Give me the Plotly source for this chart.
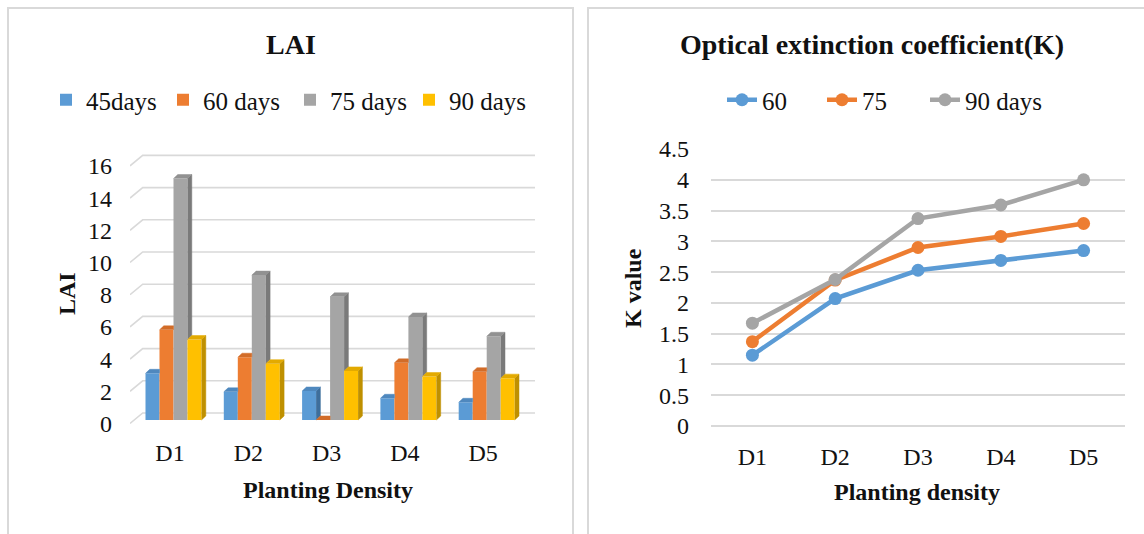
import plotly.graph_objects as go

# ---------------- data ----------------
categories = ["D1", "D2", "D3", "D4", "D5"]

lai_names = ["45days", "60 days", "75 days", "90 days"]
lai_45 = [2.9, 1.75, 1.8, 1.35, 1.1]
lai_60 = [5.6, 3.9, 0.0, 3.55, 3.0]
lai_75 = [15.0, 9.0, 7.65, 6.4, 5.2]
lai_90 = [5.0, 3.5, 3.05, 2.7, 2.6]
lai_ticks = [0, 2, 4, 6, 8, 10, 12, 14, 16]

k_names = ["60", "75", "90 days"]
k_60 = [1.15, 2.07, 2.53, 2.69, 2.85]
k_75 = [1.37, 2.37, 2.90, 3.08, 3.29]
k_90 = [1.67, 2.38, 3.37, 3.59, 4.00]
k_ticks = [0, 0.5, 1, 1.5, 2, 2.5, 3, 3.5, 4, 4.5]

# ---------------- styling ----------------
W, H = 1144, 534
FONT = "Liberation Serif"
INK = "#111111"
GRID = "#d9d9d9"
front_cols = ["#5B9BD5", "#ED7D31", "#A5A5A5", "#FFC000"]
side_cols = ["#3E6E9C", "#B05C24", "#7A7A7A", "#BF9000"]
top_cols = ["#4F88BE", "#D26C28", "#919191", "#E3AA00"]
k_cols = ["#5B9BD5", "#ED7D31", "#A5A5A5"]

# left edge (px) of each legend entry, one legend box per entry
lai_legend_px = [46, 163, 290, 409]
k_legend_px = [722, 822, 925]


def fx(px):
    return px / W


def fy(py):
    return 1 - py / H


# pseudo-3D geometry of the column chart (in axis units)
CAT_PX = 78.3          # pixels per category step
UNIT_PX = 16.1         # pixels per LAI unit
X_LO, X_HI = (130 - 170) / CAT_PX, (535 - 170) / CAT_PX
WALL_DX = (142.7 - 170) / CAT_PX   # back-wall start of the side wall
WALL_DY = 10.5 / UNIT_PX           # rise of the back wall over the front
BAR_W = 14 / CAT_PX
GROUP_OFF = -24.5 / CAT_PX
DEPTH_X = 4.3 / CAT_PX
DEPTH_Y = 4.0 / UNIT_PX
LIFT = 3.5 / UNIT_PX               # floor height of the columns

fig = go.Figure()
legend_ids = []


def next_legend():
    lid = "legend" if not legend_ids else f"legend{len(legend_ids) + 1}"
    legend_ids.append(lid)
    return lid


lai_values = [lai_45, lai_60, lai_75, lai_90]
n_ser = len(lai_values)
xs = list(range(len(categories)))

# front faces
for k, (name, vals) in enumerate(zip(lai_names, lai_values)):
    fig.add_trace(go.Bar(
        x=xs, y=vals, base=LIFT, name=name,
        width=BAR_W, offset=GROUP_OFF + k * BAR_W,
        marker=dict(color=front_cols[k], line=dict(width=0)),
        xaxis="x", yaxis="y", legend=next_legend(), hoverinfo="skip",
    ))

# side and top faces, hiding what the next column in the cluster covers
for k, vals in enumerate(lai_values):
    side_x, side_y, top_x, top_y = [], [], [], []
    for i, v in enumerate(vals):
        x0 = i + GROUP_OFF + k * BAR_W
        xr = x0 + BAR_W
        nxt = lai_values[k + 1][i] if k + 1 < n_ser else 0.0
        y_top = LIFT + v
        y_cut = LIFT + nxt if k + 1 < n_ser else LIFT
        if y_top > y_cut:
            side_x += [xr, xr + DEPTH_X, xr + DEPTH_X, xr, None]
            side_y += [y_cut, y_cut + DEPTH_Y, y_top + DEPTH_Y, y_top, None]
        covered = k + 1 < n_ser and nxt > v
        right = xr if covered else xr + DEPTH_X
        top_x += [x0, x0 + DEPTH_X, right, xr, None]
        top_y += [y_top, y_top + DEPTH_Y, y_top + DEPTH_Y, y_top, None]
    fig.add_trace(go.Scatter(
        x=side_x, y=side_y, mode="lines", fill="toself",
        fillcolor=side_cols[k], line=dict(color=side_cols[k], width=0.5),
        showlegend=False, hoverinfo="skip", xaxis="x", yaxis="y",
    ))
    fig.add_trace(go.Scatter(
        x=top_x, y=top_y, mode="lines", fill="toself",
        fillcolor=top_cols[k], line=dict(color=top_cols[k], width=0.5),
        showlegend=False, hoverinfo="skip", xaxis="x", yaxis="y",
    ))

# gridlines on the side wall and back wall
shapes = []
for v in lai_ticks:
    shapes.append(dict(
        type="path", xref="x", yref="y", layer="below",
        path=f"M {X_LO},{v} L {WALL_DX},{v + WALL_DY} L {X_HI},{v + WALL_DY}",
        line=dict(color=GRID, width=1.6),
    ))

# K value lines
k_values = [k_60, k_75, k_90]
for name, vals, c in zip(k_names, k_values, k_cols):
    fig.add_trace(go.Scatter(
        x=categories, y=vals, name=name, mode="lines+markers",
        line=dict(color=c, width=4.5), marker=dict(color=c, size=13),
        xaxis="x2", yaxis="y2", legend=next_legend(), hoverinfo="skip",
    ))

# panel frames
shapes.append(dict(type="rect", xref="paper", yref="paper",
                   x0=fx(8), x1=fx(573), y0=fy(545), y1=fy(8),
                   line=dict(color=GRID, width=2), layer="below"))
shapes.append(dict(type="rect", xref="paper", yref="paper",
                   x0=fx(588), x1=fx(1160), y0=fy(545), y1=fy(8),
                   line=dict(color=GRID, width=2), layer="below"))

tick_font = dict(family=FONT, size=24, color=INK)
annotations = [
    dict(text="<b>LAI</b>", x=fx(291), y=fy(45), font=dict(family=FONT, size=28, color=INK)),
    dict(text="<b>Optical extinction coefficient(K)</b>", x=fx(872), y=fy(45),
         font=dict(family=FONT, size=28, color=INK)),
    dict(text="<b>LAI</b>", x=fx(67), y=fy(294), textangle=-90,
         font=dict(family=FONT, size=24, color=INK)),
    dict(text="<b>Planting Density</b>", x=fx(328), y=fy(490),
         font=dict(family=FONT, size=24, color=INK)),
    dict(text="<b>K value</b>", x=fx(633), y=fy(288), textangle=-90,
         font=dict(family=FONT, size=24, color=INK)),
    dict(text="<b>Planting density</b>", x=fx(917), y=fy(492),
         font=dict(family=FONT, size=24, color=INK)),
]
for a in annotations:
    a.update(xref="paper", yref="paper", showarrow=False, xanchor="center", yanchor="middle")

legend_layout = {}
for lid, px in zip(legend_ids, lai_legend_px + k_legend_px):
    legend_layout[lid] = dict(
        orientation="h", x=fx(px), y=fy(100), xanchor="left", yanchor="middle",
        font=dict(family=FONT, size=25, color=INK), bgcolor="rgba(0,0,0,0)",
        itemclick=False, itemdoubleclick=False,
    )

fig.update_layout(
    width=W, height=H, margin=dict(l=0, r=0, t=0, b=0, pad=0, autoexpand=False),
    paper_bgcolor="white", plot_bgcolor="rgba(0,0,0,0)",
    barmode="overlay", showlegend=True,
    font=dict(family=FONT, color=INK),
    shapes=shapes, annotations=annotations,
    xaxis=dict(domain=[fx(130), fx(535)], range=[X_LO, X_HI], automargin=False,
               tickvals=xs, ticktext=categories, showgrid=False, zeroline=False,
               showline=False, ticks="", tickfont=tick_font, ticklabelstandoff=4),
    yaxis=dict(domain=[fy(431.55), fy(149.8)], range=[-0.5, 17], automargin=False,
               tickvals=lai_ticks, showgrid=False, zeroline=False, showline=False,
               ticks="", tickfont=tick_font, ticklabelstandoff=17),
    xaxis2=dict(domain=[fx(711), fx(1125)], type="category", range=[-0.5, 4.5],
                automargin=False, showgrid=False, zeroline=False, showline=False,
                ticks="", tickfont=tick_font, ticklabelstandoff=14, anchor="y2"),
    yaxis2=dict(domain=[fy(426), fy(149)], range=[0, 4.5], tickvals=k_ticks,
                ticktext=[f"{t:g}" for t in k_ticks], automargin=False,
                showgrid=True, gridcolor=GRID, gridwidth=2,
                zeroline=True, zerolinecolor=GRID, zerolinewidth=2, showline=False,
                ticks="", tickfont=tick_font, ticklabelstandoff=21, anchor="x2"),
    **legend_layout,
)

fig.write_html("out.html")
